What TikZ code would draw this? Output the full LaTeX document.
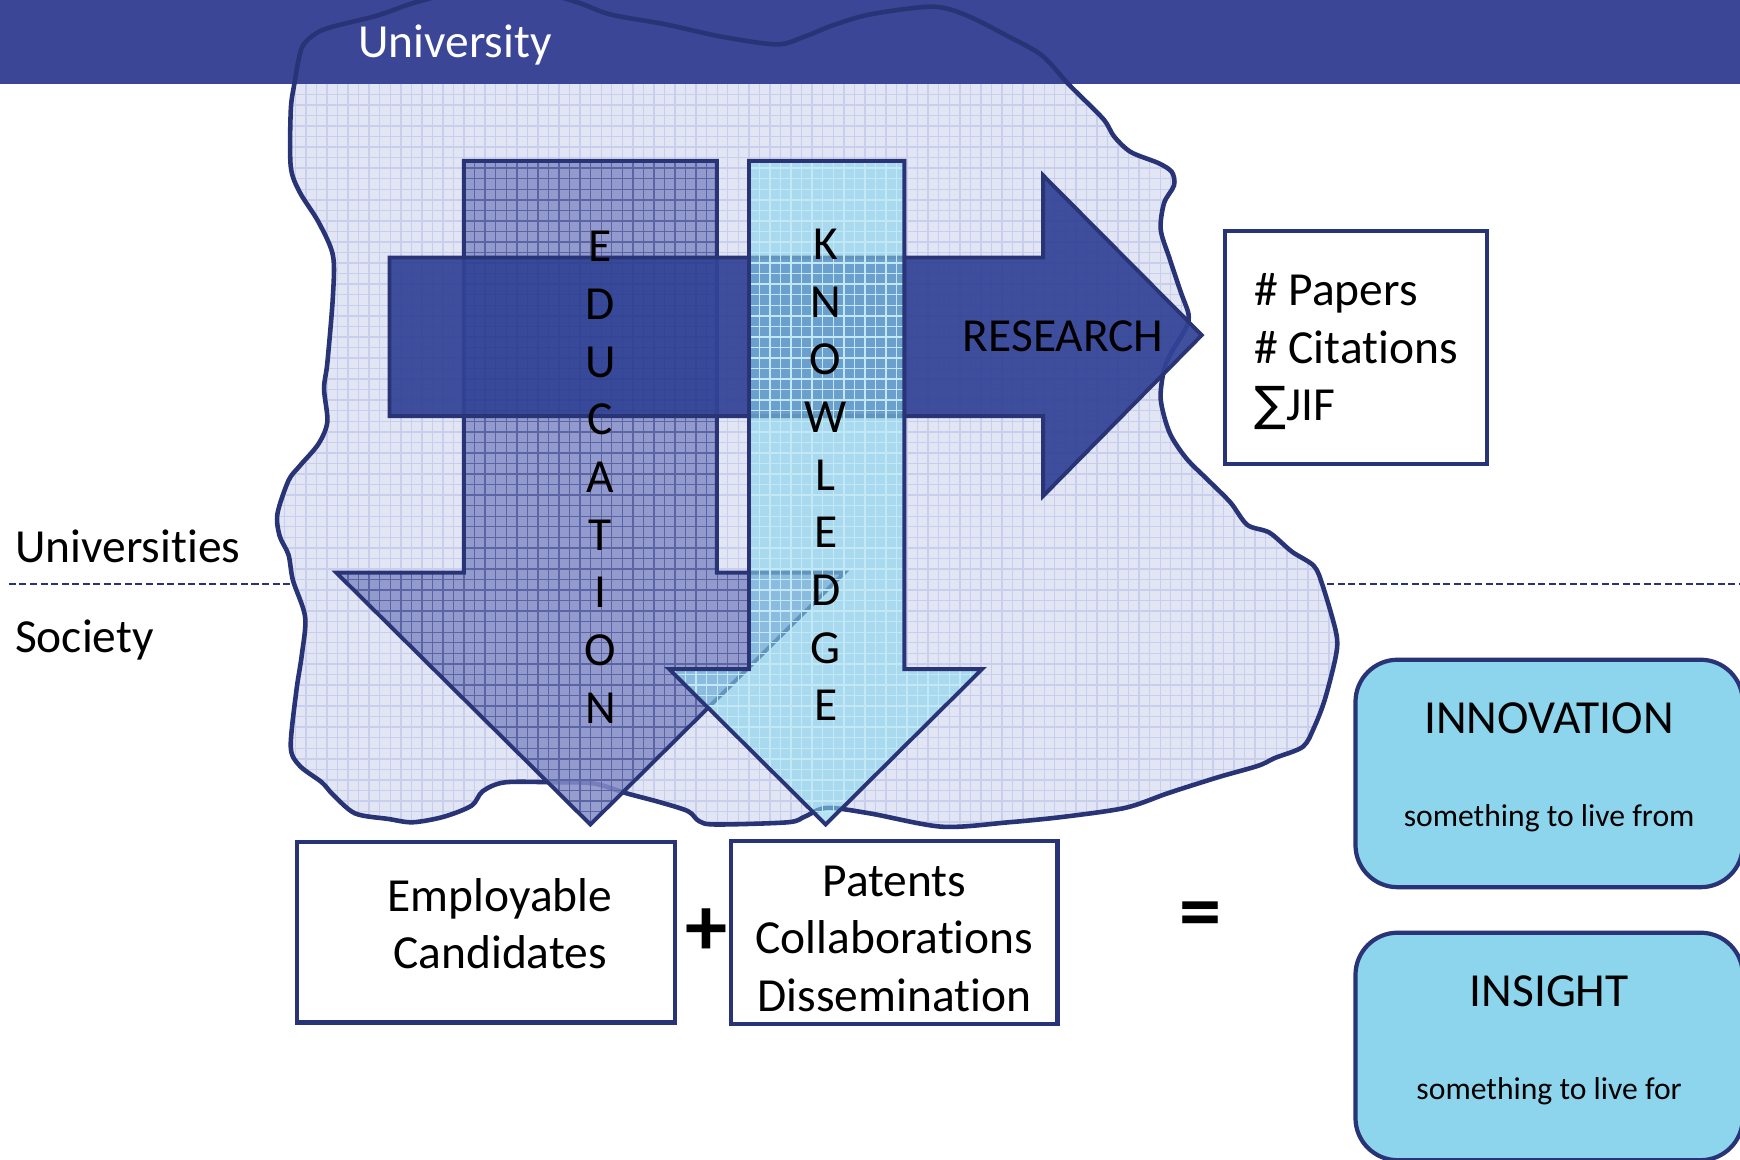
\documentclass[tikz,border=0pt]{standalone}
\usepackage[dvipsnames]{xcolor}
\usepackage{fontspec}
\setmainfont{Carlito}[Ligatures={NoCommon}]
\newfontfamily\symfont{DejaVu Sans}
\usepackage{tikz}
\usetikzlibrary{patterns}

\definecolor{navy}{RGB}{40,52,117}
\definecolor{band}{RGB}{59,70,151}
\definecolor{blobfill}{RGB}{226,229,244}
\definecolor{blobgrid}{RGB}{200,206,235}
\definecolor{edufill}{RGB}{132,141,200}
\definecolor{resfill}{RGB}{50,67,150}
\definecolor{knowfill}{RGB}{135,210,236}
\definecolor{skybox}{RGB}{140,213,236}

\newcommand\bigtxt{\fontsize{13.5}{16.4}\selectfont}
\newcommand\smalltxt{\fontsize{9}{11}\selectfont}

\begin{document}
\begin{tikzpicture}[x=0.0111cm, y=-0.0111cm,
  outline/.style={draw=navy, line width=1.1pt},
  whitebox/.style={rectangle, draw=navy, line width=1.2pt, fill=white,
                   align=center, font=\bigtxt},
  ideabox/.style={rectangle, rounded corners=12pt, draw=navy, line width=1.2pt,
                  fill=skybox, align=center, font=\bigtxt, text depth=5pt,
                  minimum width=349*\px, minimum height=205*\px}]
\def\px{0.0111cm}

\useasboundingbox (0,0) rectangle (1568,1045);

% universities / society divider
\coordinate (divl) at (8,526);
\coordinate (divr) at (1568,526);
\draw[navy, line width=0.6pt, dash pattern=on 2pt off 1pt] (divl) -- (divr);

% the university blob
\path[save path=\blobline] plot[smooth cycle, tension=0.5] coordinates {
  (265,77) (272,43) (285,30) (300,24) (340,14) (375,2) (420,-8) (480,-8)
  (520,2) (550,13) (600,22) (650,33) (700,40) (725,33) (750,23) (784,13)
  (839,6) (869,13) (909,33) (939,50) (964,77) (994,107) (1004,123)
  (1019,137) (1044,147) (1056,155) (1058,167) (1049,183) (1046,207)
  (1054,233) (1064,263) (1071,283) (1069,295) (1056,317) (1049,333)
  (1046,360) (1054,390) (1069,413) (1089,433) (1109,453) (1124,473)
  (1144,480) (1164,497) (1184,510) (1192,528) (1204,570) (1204,590)
  (1194,630) (1184,656) (1174,673) (1149,683) (1134,690) (1099,700)
  (1064,711) (1049,716) (1014,728) (959,736) (909,741) (849,745)
  (784,733) (745,728) (725,736) (710,741) (645,743) (630,740) (620,731)
  (595,723) (565,715) (535,706) (500,705) (455,705) (435,713) (425,726)
  (400,736) (372,741) (350,738) (320,733) (300,716) (290,705) (270,690)
  (262,673) (267,623) (272,590) (275,556) (264,523) (260,500) (252,483)
  (250,463) (260,433) (270,420) (287,400) (295,380) (292,350) (295,327)
  (300,267) (300,230) (287,200) (270,173) (262,150) (262,100)};
\path[use path=\blobline, fill=blobfill];
\path[use path=\blobline, pattern=grid, pattern color=blobgrid];

% header band
\fill[band] (0,0) rectangle (1568,76);
\path[use path=\blobline, draw=navy, line width=1.3pt];

\node[text=white, font=\bigtxt, anchor=base] (univ) at (410,52) {University};

% education arrow
\draw[outline,
      preaction={fill=edufill, fill opacity=0.85},
      preaction={pattern=grid, pattern color=navy!45!edufill}]
  (418,145) -- (646,145) -- (646,516) -- (761,516) -- (532,743)
  -- (303,516) -- (418,516) -- cycle;

% research arrow
\draw[outline, fill=resfill, fill opacity=0.93]
  (351,232) -- (940,232) -- (940,158) -- (1083,302) -- (940,447)
  -- (940,375) -- (351,375) -- cycle;

% knowledge arrow
\draw[outline,
      preaction={fill=knowfill, fill opacity=0.62},
      preaction={pattern=grid, pattern color=white!50!knowfill}]
  (675,145) -- (815,145) -- (815,603) -- (885,603) -- (744,743)
  -- (603,603) -- (675,603) -- cycle;

\node[align=center, font=\bigtxt] (edu) at (541,430)
  {E\\D\\U\\C\\A\\T\\I\\O\\N};
\node[align=center, font=\bigtxt] (know) at (744,428)
  {K\\N\\O\\W\\L\\E\\D\\G\\E};
\node[font=\bigtxt, anchor=base] (res) at (958,317) {RESEARCH};

% side labels
\node[font=\bigtxt, anchor=base west, inner sep=0pt] (unis) at (13,507) {Universities};
\node[font=\bigtxt, anchor=base west, inner sep=0pt] (soc) at (13,588) {Society};

% outputs
\node[whitebox, align=left,
      minimum width=236*\px,
      minimum height=210*\px] (metrics) at (1222,313)
  {\rule{0pt}{11.5pt}\# Papers\\\# Citations\\{\symfont ∑}JIF};

\node[whitebox,
      minimum width=341*\px,
      minimum height=163*\px,
      text depth=5pt] (employ) at (438,840)
  {\hspace*{8pt}Employable\\\hspace*{8pt}Candidates};

\node[whitebox,
      minimum width=294*\px,
      minimum height=163*\px] (patents) at (806,840)
  {\rule{0pt}{12.5pt}Patents\\Collaborations\\Dissemination};

\node[font=\fontsize{24}{24}\selectfont\bfseries] (plus) at (637,840) {+};
\node[font=\fontsize{24}{24}\selectfont\bfseries] (equals) at (1082,830) {=};

\node[ideabox] (innov) at (1396,697)
  {INNOVATION\\[10pt]{\smalltxt something to live from}};
\node[ideabox] (insight) at (1396,943)
  {INSIGHT\\[10pt]{\smalltxt something to live for}};
\end{tikzpicture}
\end{document}
